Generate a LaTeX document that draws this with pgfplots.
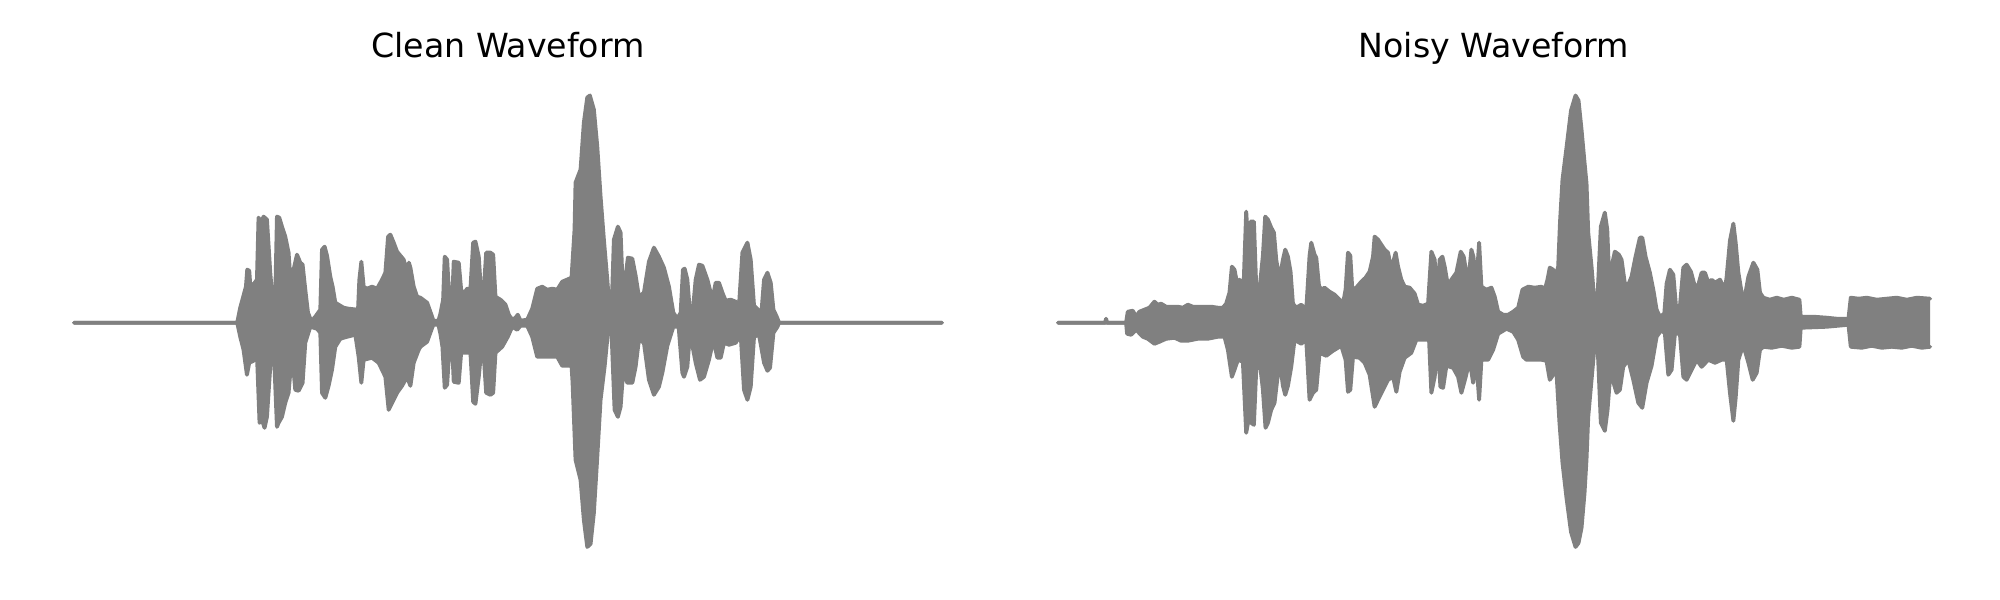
\documentclass[border=0pt]{standalone}
\usepackage{fontspec}
\setmainfont{DejaVu Sans}
\usepackage{pgfplots}
\usepackage{pgfplotstable}
\pgfplotsset{compat=1.18}
\usepgfplotslibrary{fillbetween}
\definecolor{wave}{HTML}{808080}

% Clean waveform: upper envelope
\pgfplotstableread{
x y
74 0
237 0
240 15
243 26
245.7 36
247 53
249 52
250 38
253 38
256.7 43
258.3 105
261 100
263.3 106
266.7 103
270 50
272.3 23
275 26
276.7 106
279 105
281.7 96
285 86
288.3 70
291 30
293.3 53
296.7 68
300 60
302.3 58
305 33
307.7 10
310 4
311.5 2
315 6
320 13
321.7 73
324.3 76
326.7 67
330 46
332.3 36
335 20
340 17
343.3 15
348.3 14
357.7 13
359 43
361 61
363.3 36
366.7 34
371.7 36
376.7 34
381.7 43
385 50
387.7 86
390 88
393.3 80
396.7 71
400 67
403.3 63
406.7 50
408.5 60
410 55
413.3 36
416.7 26
420 25
426.7 20
431 8
433 2
438 2
440 9
442.7 23
444.3 66
446.7 63
449.3 16
451.7 20
453.3 61
458.3 60
460.7 33
463.3 29
466.7 34
470 34
472.7 80
475 81
478.3 66
480.7 29
483 27
485.7 70
490 70
492.7 68
495 26
500 23
505 18
508.3 8
511.7 3
515 5
517.3 8
520 2
526.7 3
531.7 14
536.7 34
541.7 36
546.7 33
551.7 34
556.7 33
561.7 41
571 45
572 61
574 93
575 140
580 153
583.3 200
586.7 225
589.3 227
593.3 213
596.7 176
600 126
603.3 83
606.7 43
609.3 10
610.7 3
613.3 83
617.3 96
620 90
621.7 46
625 46
627.3 65
631.7 64
635 47
638.3 26
643.3 30
648.3 61
653.3 75
658.3 66
663.3 55
668.3 36
672.7 10
676.7 4
680 10
682.3 53
684 54
686.7 43
689.3 10
692 10
695 43
698.3 58
701.7 57
706.7 43
711.7 23
715 40
718.3 40
721.7 30
725 22
730 23
735 21
738.3 17
741.7 70
746.7 80
750 63
753.3 17
757.3 13
760.7 10
763.3 43
766.7 50
770 40
772.7 13
776 6
778.3 0
941 0
}\cleanup

% Clean waveform: lower envelope
\pgfplotstableread{
x y
74 0
237 0
240 -14
243.3 -27
246.7 -52
249 -40
253.3 -38
256.7 -31
259.3 -100
261.7 -97
264.3 -105
266.7 -94
270 -44
273.3 -21
276.7 -104
278.3 -100
281.7 -94
285 -80
288.3 -70
291.7 -30
295 -67
298.3 -68
302.3 -60
305 -20
310 -4
316.7 -6
320 -10
321.7 -70
325 -75
328.3 -63
331.7 -47
335 -24
340 -16
346.7 -14
355 -12
358.3 -34
361 -60
363.3 -37
371.7 -35
378.3 -40
385 -54
388.3 -87
391.7 -80
396.7 -70
401.7 -63
406.7 -54
410 -63
413.3 -40
418.3 -27
420 -24
426.7 -19
431 -7
433 -2
438 -2
440 -11
442 -24
444.3 -65
446.7 -62
449.3 -20
451.7 -22
453.3 -59
458.3 -60
460.7 -30
470 -30
472.7 -79
475 -81
478.3 -54
480.7 -29
483 -28
485.7 -70
490 -72
492.7 -70
495 -30
501.7 -24
507.3 -14
511.7 -4
516.7 -7
520 -3
526.7 -3
531.7 -14
536.7 -34
556.7 -34
561.7 -43
571 -43
572 -59
575 -137
580 -157
583.3 -197
586.7 -224
590 -221
593.3 -190
596.7 -134
600 -77
604 -44
607.3 -10
610.7 -3
614 -87
617.3 -94
620 -84
622.7 -47
626.7 -60
631.7 -60
635 -44
638.3 -17
643.3 -20
648.3 -57
653.3 -72
658.3 -64
661.7 -50
666.7 -23
672.7 -4
678 -4
681.7 -50
683.3 -54
686.7 -44
689.3 -10
695 -40
699.3 -57
703.3 -54
708.3 -37
712.7 -17
716.7 -35
720 -35
723.3 -20
728.3 -22
735 -20
740 -12
743.3 -67
746.7 -77
750 -64
753.3 -14
758.3 -12
763.3 -40
766.7 -48
769.3 -45
772.7 -10
776.7 -4
778.3 0
941 0
}\cleanlo

% Noisy waveform: upper envelope
\pgfplotstableread{
x y
1057 0
1104 0
1105 4
1106 0
1125 0
1126.7 11
1131.7 12
1135 6
1138.3 11
1143.3 13
1148.3 15
1153.3 21
1156.7 18
1160 19
1165 16
1170 16
1176.7 16
1181.7 15
1186.7 18
1191.7 16
1196.7 16
1203.3 16
1210 16
1216.7 15
1221.7 15
1225 19
1228.3 30
1230.7 56
1233.3 53
1236 39
1238.3 43
1241 36
1242.7 45
1245 111
1246.7 83
1249.3 101
1252.7 101
1255 36
1258.3 33
1261.7 67
1264 106
1266.7 103
1270 95
1272.7 90
1275 63
1278.3 43
1281.7 63
1284 73
1286.7 66
1289.3 51
1291.7 19
1295 15
1300 18
1305 13
1308.3 67
1310 80
1313.3 68
1315 65
1317.7 37
1320 33
1323.3 35
1328.3 31
1333.3 28
1338.3 23
1341.7 19
1344.3 33
1346.7 70
1349 67
1351 33
1355 35
1360 41
1364.3 45
1368.3 51
1371.7 66
1373.3 86
1376.7 83
1380 78
1383.3 73
1386.7 70
1390 53
1394.3 70
1396.7 56
1400 43
1403.3 36
1408.3 35
1413.3 29
1416.7 18
1421.7 17
1426.7 19
1430 71
1433.3 63
1435.7 23
1438.3 63
1441 66
1443.3 56
1446.7 36
1450 43
1455 50
1459.3 71
1462.3 66
1466.7 39
1470 73
1472 66
1475 39
1477.7 80
1480 36
1485 33
1490 35
1493.3 26
1496.7 11
1501.7 8
1506.7 8
1511.7 11
1516.7 15
1521 33
1526.7 36
1533.3 35
1540 36
1543.3 33
1546 43
1548.3 55
1551.7 53
1553.3 43
1556.7 56
1558.5 100
1561 143
1565 175
1569.5 212
1574 227
1577 222
1580 193
1583 160
1585 139
1586.7 90
1590 56
1592.7 23
1596 26
1599.3 96
1603.3 110
1605.7 93
1607.3 53
1610 56
1613.3 71
1617.3 68
1620 63
1623.3 39
1626.7 38
1630 46
1634 66
1638.3 85
1640.7 85
1644 66
1648.3 50
1651.7 33
1655 13
1658.3 6
1662.7 9
1665 39
1668.3 53
1671.7 48
1675 9
1678.3 16
1681.7 55
1685 58
1689.3 51
1693.3 36
1696.7 38
1700 50
1703.3 50
1706.7 40
1710 43
1713.3 40
1718.3 43
1723.3 33
1725 46
1728.3 82
1731.7 99
1734 80
1736.7 50
1740 30
1743.3 27
1746.7 46
1751.7 60
1755.7 53
1758.3 30
1761.7 25
1768 23
1775 25
1782 23
1790 25
1797.7 23
1799 6
1811.7 6
1825 5
1835 4
1846.7 4
1849 25
1857 24
1865 25
1875 23
1885 24
1895 25
1905 23
1915 25
1928.3 24
}\noisyup

% Noisy waveform: lower envelope
\pgfplotstableread{
x y
1057 0
1125 0
1126 -11
1130 -12
1135 -7
1141.7 -14
1146.7 -16
1153.3 -21
1158.3 -19
1165 -16
1173.3 -15
1180 -18
1186.7 -18
1196.7 -16
1206.7 -16
1216.7 -14
1223.3 -14
1226.7 -27
1230.7 -54
1233.3 -47
1236.7 -37
1241.7 -39
1245 -110
1247.3 -97
1250 -100
1252.7 -102
1255 -47
1258.3 -37
1261.7 -67
1264.3 -105
1266.7 -100
1270 -87
1273.3 -80
1276 -57
1278.3 -37
1281.7 -63
1284 -72
1286.7 -63
1290 -44
1293.3 -17
1300 -21
1305 -17
1308.3 -77
1311.7 -70
1315 -67
1318.3 -30
1325 -33
1331.7 -28
1340 -23
1344.3 -37
1346.7 -69
1349 -67
1351.7 -34
1358.3 -35
1363.3 -40
1368.3 -52
1373.3 -84
1376.7 -77
1381.7 -67
1386.7 -57
1391.7 -54
1395 -69
1398.3 -49
1403.3 -35
1410 -30
1415 -17
1421.7 -17
1427.7 -17
1430 -70
1433.3 -54
1436.7 -22
1439 -64
1441.7 -65
1445 -43
1451.7 -45
1456.7 -54
1460 -70
1464.3 -54
1468.3 -37
1471.7 -60
1475 -39
1477.7 -77
1480 -37
1486.7 -37
1491.7 -27
1496.7 -11
1505 -6
1511.7 -9
1516.7 -17
1521.7 -34
1525 -37
1530 -37
1540 -37
1545 -38
1548.3 -57
1551.7 -52
1555 -50
1558 -100
1561 -140
1565 -175
1569.5 -209
1574 -224
1577 -220
1580 -205
1583 -170
1585 -136
1586.7 -94
1590 -57
1593.3 -20
1596 -21
1599.3 -100
1603.3 -108
1606 -87
1608.3 -57
1611.7 -59
1615 -70
1618.3 -67
1621.7 -44
1626.7 -37
1631.7 -57
1636.7 -80
1640.7 -85
1645 -60
1650 -43
1655 -14
1660 -7
1663.3 -11
1666.7 -52
1670 -47
1673.3 -11
1678.3 -11
1681.7 -54
1685 -57
1690 -47
1695 -37
1700 -44
1706.7 -37
1713.3 -40
1720 -37
1725 -37
1728.3 -70
1731.7 -98
1734 -75
1736.7 -37
1740 -27
1743.3 -28
1746.7 -40
1751 -57
1755 -50
1758.3 -27
1761.7 -24
1770 -25
1780 -23
1790 -25
1797.7 -24
1799 -5
1825 -4
1846.7 -2
1849 -24
1860 -25
1870 -23
1880 -25
1890 -24
1900 -25
1910 -23
1920 -25
1928.3 -24
}\noisylo

\pgfplotsset{
  waveaxis/.style={
    x=0.005in, y=0.005in,
    ymin=-250, ymax=250,
    hide axis, clip=false,
    anchor=south west,
    every axis title/.style={at={(0.5,1)}, anchor=base, yshift=5.4pt,
      font=\fontsize{12}{14.4}\selectfont},
  },
  env/.style={draw=wave, line width=1.4pt, line join=round, line cap=round, mark=none},
}

\begin{document}
\begin{tikzpicture}

\begin{axis}[waveaxis,
  xmin=30.5, xmax=984.5,
  at={(30.5*0.005in,27*0.005in)},
  title={Clean Waveform}]
\addplot[env, name path=cu] table {\cleanup};
\addplot[env, name path=cl] table {\cleanlo};
\addplot[fill=wave, draw=none] fill between[of=cu and cl];
\end{axis}

\begin{axis}[waveaxis,
  xmin=1013.5, xmax=1971.5,
  at={(1013.5*0.005in,27*0.005in)},
  title={Noisy Waveform}]
\addplot[env, name path=nu] table {\noisyup};
\addplot[env, name path=nl] table {\noisylo};
\addplot[fill=wave, draw=none] fill between[of=nu and nl];
\end{axis}

\path (0,0) (10in,3in);
\end{tikzpicture}
\end{document}
